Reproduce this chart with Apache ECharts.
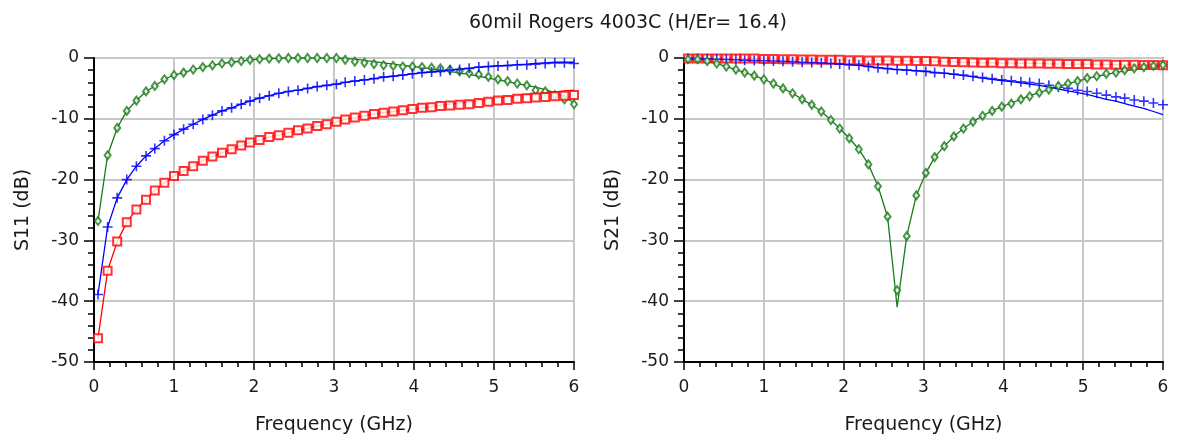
<!DOCTYPE html>
<html><head><meta charset="utf-8">
<script src="https://cdn.jsdelivr.net/npm/echarts@6/dist/echarts.min.js"></script>
<style>html,body{margin:0;padding:0;background:#fff}#c{width:1183px;height:442px}</style>
</head><body><div id="c"></div>
<script>
const title = '60mil Rogers 4003C (H/Er= 16.4)';
const xTicks = [0, 1, 2, 3, 4, 5, 6];
const yTicks = [0, -10, -20, -30, -40, -50];
const freq = [0.05,0.17,0.29,0.41,0.53,0.65,0.76,0.88,1.00,1.12,1.24,1.36,1.48,1.60,1.72,1.84,1.95,2.07,2.19,2.31,2.43,2.55,2.67,2.79,2.91,3.03,3.14,3.26,3.38,3.50,3.62,3.74,3.86,3.98,4.10,4.22,4.33,4.45,4.57,4.69,4.81,4.93,5.05,5.17,5.29,5.41,5.52,5.64,5.76,5.88,6.00];

// Left panel S11 — measured (markers) and simulated (lines)
const s11GreenMeas = [-26.8,-16.0,-11.5,-8.7,-7.0,-5.5,-4.6,-3.5,-2.8,-2.4,-1.9,-1.5,-1.2,-0.9,-0.7,-0.5,-0.3,-0.2,-0.1,-0.05,0,0,0,0,0,0,-0.3,-0.6,-0.8,-1.0,-1.2,-1.3,-1.4,-1.4,-1.5,-1.6,-1.7,-1.9,-2.2,-2.5,-2.7,-3.1,-3.5,-3.8,-4.2,-4.5,-5.3,-5.5,-6.1,-6.8,-7.6];
const s11GreenSim  = [-26.8,-16.0,-11.5,-8.7,-7.0,-5.5,-4.6,-3.5,-2.8,-2.4,-1.9,-1.5,-1.2,-0.9,-0.7,-0.5,-0.3,-0.2,-0.1,-0.05,0,0,0,0,0,0,-0.1,-0.2,-0.4,-0.6,-0.8,-1.0,-1.2,-1.4,-1.6,-1.8,-2.0,-2.2,-2.5,-2.7,-3.0,-3.3,-3.6,-3.9,-4.2,-4.5,-4.8,-5.2,-5.7,-6.3,-7.4];
const s11BlueMeas  = [-38.9,-27.8,-23.0,-20.0,-17.8,-16.1,-14.9,-13.6,-12.6,-11.7,-10.9,-10.1,-9.4,-8.7,-8.2,-7.6,-7.1,-6.6,-6.2,-5.8,-5.5,-5.3,-5.0,-4.7,-4.5,-4.3,-4.0,-3.8,-3.6,-3.4,-3.1,-3.0,-2.8,-2.6,-2.4,-2.3,-2.2,-2.0,-1.9,-1.7,-1.5,-1.4,-1.3,-1.25,-1.15,-1.1,-1.0,-0.9,-0.8,-0.8,-0.9];
const s11BlueSim   = [-38.9,-27.8,-23.0,-20.0,-17.8,-16.1,-14.9,-13.6,-12.6,-11.7,-10.9,-10.1,-9.4,-8.7,-8.2,-7.6,-7.1,-6.6,-6.2,-5.8,-5.5,-5.3,-5.0,-4.7,-4.5,-4.3,-4.0,-3.8,-3.6,-3.4,-3.2,-3.0,-2.8,-2.6,-2.4,-2.3,-2.1,-2.0,-1.8,-1.7,-1.5,-1.4,-1.3,-1.2,-1.1,-1.0,-0.9,-0.8,-0.7,-0.7,-0.7];
const s11RedMeas   = [-46.1,-35.0,-30.2,-27.0,-24.9,-23.3,-21.8,-20.5,-19.4,-18.6,-17.8,-16.9,-16.2,-15.6,-15.0,-14.4,-13.9,-13.5,-13.0,-12.7,-12.3,-11.9,-11.6,-11.2,-10.9,-10.5,-10.1,-9.8,-9.5,-9.2,-9.0,-8.8,-8.6,-8.4,-8.2,-8.1,-7.9,-7.8,-7.7,-7.6,-7.4,-7.2,-7.0,-6.9,-6.7,-6.6,-6.5,-6.4,-6.3,-6.2,-6.1];
const s11RedSim    = [-46.1,-35.0,-30.2,-27.0,-24.9,-23.3,-21.8,-20.5,-19.4,-18.6,-17.8,-16.9,-16.2,-15.6,-15.0,-14.4,-13.9,-13.5,-13.0,-12.7,-12.3,-11.9,-11.6,-11.2,-10.9,-10.5,-10.1,-9.8,-9.5,-9.2,-9.0,-8.8,-8.6,-8.4,-8.2,-8.0,-7.8,-7.6,-7.4,-7.2,-7.0,-6.8,-6.6,-6.4,-6.2,-6.0,-5.9,-5.7,-5.6,-5.4,-5.3];

// Right panel S21
const s21GreenMeas = [-0.2,-0.2,-0.5,-0.9,-1.4,-1.9,-2.4,-2.9,-3.5,-4.2,-5.0,-5.8,-6.8,-7.7,-8.8,-10.2,-11.6,-13.2,-15.0,-17.5,-21.1,-26.1,-38.2,-29.3,-22.6,-18.9,-16.3,-14.5,-12.9,-11.6,-10.5,-9.5,-8.7,-8.0,-7.5,-6.8,-6.3,-5.7,-5.2,-4.6,-4.2,-3.8,-3.3,-3.0,-2.6,-2.4,-2.0,-1.7,-1.5,-1.3,-1.15];
const s21GreenSim  = [-0.2,-0.2,-0.5,-0.9,-1.4,-1.9,-2.4,-2.9,-3.5,-4.2,-5.0,-5.8,-6.8,-7.7,-8.8,-10.2,-11.6,-13.2,-15.0,-17.5,-21.1,-26.1,-41.0,-29.3,-22.6,-18.9,-16.3,-14.5,-12.9,-11.6,-10.5,-9.5,-8.7,-8.0,-7.4,-6.8,-6.2,-5.7,-5.2,-4.7,-4.2,-3.8,-3.4,-3.0,-2.7,-2.4,-2.1,-1.9,-1.7,-1.5,-1.4];
const s21BlueMeas  = [-0.1,-0.1,-0.15,-0.2,-0.25,-0.3,-0.35,-0.4,-0.45,-0.5,-0.55,-0.6,-0.7,-0.75,-0.8,-0.9,-1.0,-1.1,-1.2,-1.4,-1.6,-1.75,-1.9,-2.0,-2.1,-2.2,-2.4,-2.5,-2.65,-2.8,-3.0,-3.2,-3.4,-3.6,-3.75,-3.9,-4.05,-4.2,-4.5,-4.8,-5.0,-5.3,-5.5,-5.8,-6.1,-6.4,-6.6,-6.9,-7.1,-7.4,-7.7];
const s21BlueSim   = [-0.1,-0.1,-0.15,-0.2,-0.25,-0.3,-0.35,-0.4,-0.45,-0.5,-0.55,-0.6,-0.7,-0.75,-0.8,-0.9,-1.0,-1.1,-1.2,-1.4,-1.6,-1.75,-1.9,-2.0,-2.1,-2.2,-2.4,-2.5,-2.7,-2.9,-3.1,-3.3,-3.5,-3.7,-3.9,-4.1,-4.3,-4.5,-4.8,-5.1,-5.4,-5.7,-6.0,-6.4,-6.8,-7.1,-7.5,-7.9,-8.3,-8.8,-9.3];
const s21RedMeas   = [-0.1,-0.1,-0.1,-0.1,-0.1,-0.1,-0.1,-0.1,-0.15,-0.15,-0.2,-0.2,-0.25,-0.25,-0.3,-0.3,-0.3,-0.35,-0.35,-0.4,-0.4,-0.4,-0.45,-0.45,-0.5,-0.5,-0.55,-0.6,-0.65,-0.7,-0.75,-0.8,-0.8,-0.85,-0.85,-0.9,-0.9,-0.9,-0.95,-0.95,-1.0,-1.0,-1.0,-1.05,-1.05,-1.1,-1.1,-1.1,-1.15,-1.15,-1.2];
const s21RedSim    = [-0.1,-0.1,-0.1,-0.1,-0.1,-0.1,-0.1,-0.1,-0.15,-0.15,-0.2,-0.2,-0.25,-0.25,-0.3,-0.3,-0.3,-0.35,-0.35,-0.4,-0.4,-0.4,-0.45,-0.45,-0.5,-0.5,-0.55,-0.6,-0.65,-0.7,-0.75,-0.8,-0.8,-0.85,-0.85,-0.9,-0.9,-0.9,-0.95,-0.95,-1.0,-1.0,-1.0,-1.05,-1.05,-1.1,-1.1,-1.1,-1.15,-1.15,-1.2];

const GREEN = '#1a7a1a', BLUE = '#0000ff', RED = '#ff0000';
const FONT = 'DejaVu Sans, Liberation Sans, sans-serif';
const TXT = '#1a1a1a';
const pair = (vals) => freq.map((f, i) => [f, vals[i]]);
const PLUS = 'path://M0,5L10,5M5,0L5,10';

function lineS(idx, vals, color) {
  return { type: 'line', xAxisIndex: idx, yAxisIndex: idx, data: pair(vals), showSymbol: false,
    lineStyle: { color, width: 1.3 }, itemStyle: { color }, animation: false, z: 2 };
}
function markS(idx, vals, color, symbol, size) {
  const st = symbol === PLUS ? { color: 'rgba(0,0,0,0)', borderColor: color, borderWidth: 1.6 } : { color, borderWidth: 1.2 };
  return { type: 'scatter', xAxisIndex: idx, yAxisIndex: idx, data: pair(vals), symbol, symbolSize: size,
    itemStyle: st, animation: false, clip: false, z: 3 };
}
function xAx(idx) {
  return { type: 'value', gridIndex: idx, min: 0, max: 6, interval: 1,
    name: 'Frequency (GHz)', nameLocation: 'middle', nameGap: 54,
    nameTextStyle: { fontFamily: FONT, fontSize: 19, color: TXT },
    axisLine: { show: true, onZero: false, lineStyle: { color: '#000', width: 2 } },
    axisTick: { show: true, inside: false, length: 8, lineStyle: { color: '#000', width: 1.5 } },
    minorTick: { show: true, splitNumber: 5, length: 5, lineStyle: { color: '#000', width: 1.5 } },
    axisLabel: { fontFamily: FONT, fontSize: 17, color: TXT, margin: 17, formatter: v => xTicks.includes(v) ? String(v) : '' },
    splitLine: { show: true, lineStyle: { color: '#c8c8c8', width: 2 } } };
}
function yAx(idx, name) {
  return { type: 'value', gridIndex: idx, min: -50, max: 0, interval: 10,
    name, nameLocation: 'middle', nameGap: 61,
    nameTextStyle: { fontFamily: FONT, fontSize: 19, color: TXT },
    axisLine: { show: true, onZero: false, lineStyle: { color: '#000', width: 2 } },
    axisTick: { show: true, inside: false, length: 10, lineStyle: { color: '#000', width: 1.5 } },
    minorTick: { show: true, splitNumber: 5, length: 6, lineStyle: { color: '#000', width: 1.5 } },
    axisLabel: { fontFamily: FONT, fontSize: 17, color: TXT, margin: 15, formatter: v => yTicks.includes(v) ? String(v) : '' },
    splitLine: { show: true, lineStyle: { color: '#c8c8c8', width: 2 } } };
}

const chart = echarts.init(document.getElementById('c'), null, { renderer: 'canvas' });
chart.setOption({
  backgroundColor: '#fff',
  animation: false,
  title: { text: title, left: 623, textAlign: 'center', top: 9, textStyle: { fontFamily: FONT, fontSize: 19, fontWeight: 'normal', color: TXT } },
  grid: [
    { left: 94, top: 58, width: 480, height: 304, show: true, borderColor: '#333', borderWidth: 1.5, backgroundColor: 'transparent' },
    { left: 684, top: 58, width: 479, height: 304, show: true, borderColor: '#333', borderWidth: 1.5, backgroundColor: 'transparent' }
  ],
  xAxis: [xAx(0), xAx(1)],
  yAxis: [yAx(0, 'S11 (dB)'), yAx(1, 'S21 (dB)')],
  series: [
    lineS(0, s11GreenSim, GREEN), markS(0, s11GreenMeas, GREEN, 'emptyDiamond', [6, 8]),
    lineS(0, s11BlueSim, BLUE), markS(0, s11BlueMeas, BLUE, PLUS, 10),
    lineS(0, s11RedSim, RED), markS(0, s11RedMeas, RED, 'emptyRect', 8),
    lineS(1, s21RedSim, RED), markS(1, s21RedMeas, RED, 'emptyRect', 8),
    lineS(1, s21BlueSim, BLUE), markS(1, s21BlueMeas, BLUE, PLUS, 10),
    lineS(1, s21GreenSim, GREEN), markS(1, s21GreenMeas, GREEN, 'emptyDiamond', [6, 8])
  ]
});
</script></body></html>
